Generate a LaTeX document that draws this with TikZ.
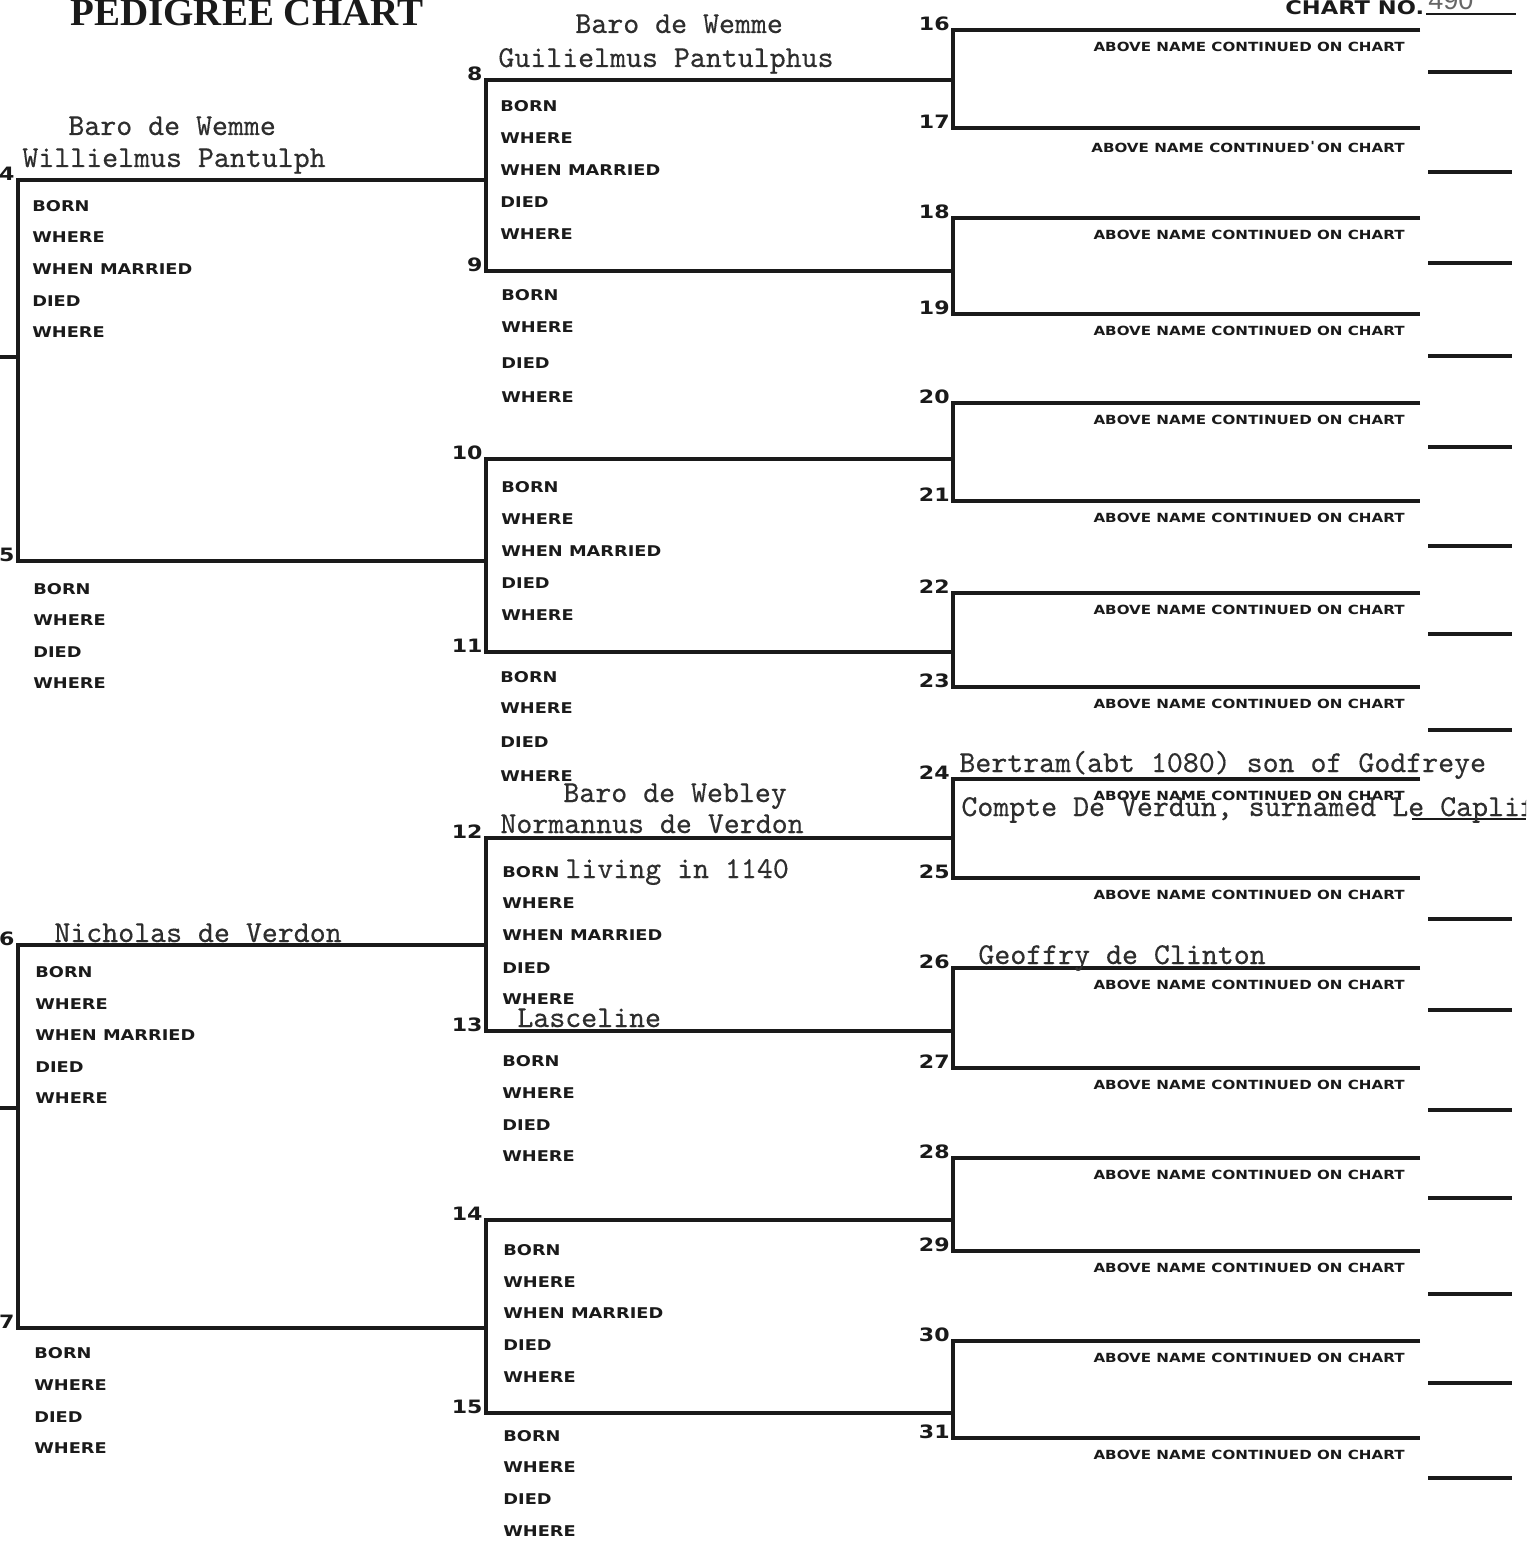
\documentclass[tikz,border=0pt]{standalone}
\usepackage{fontspec}
\newfontfamily\lblfont[FakeStretch=1.2]{DejaVu Sans Bold}
\newfontfamily\titlefont{Liberation Serif}
\newfontfamily\handfont{Liberation Sans}
\newfontfamily\twfont[FakeBold=0.35]{lmmono10-regular.otf}
\definecolor{ink}{HTML}{1A1A1A}
\definecolor{typ}{HTML}{2E2E2E}
\definecolor{pencil}{HTML}{666666}
\tikzset{
  ln/.style={line width=1.7pt, draw=ink, line join=miter},
  lbl/.style={font=\lblfont\fontsize{7.4}{8}\selectfont, anchor=west, inner sep=0pt, text=ink},
  cont/.style={font=\lblfont\fontsize{6.3}{7}\selectfont, anchor=east, inner sep=0pt, text=ink},
  num/.style={font=\lblfont\fontsize{9.2}{10}\selectfont, anchor=south east, inner sep=0pt, text=ink},
  tw/.style={font=\twfont\fontsize{15.2}{16}\selectfont, anchor=base west, inner sep=0pt, text=typ},
}
\begin{document}
\begin{tikzpicture}[x=0.5pt,y=-0.5pt]
\useasboundingbox (0,0) rectangle (1526,1546);
\clip (0,0) rectangle (1526,1546);
\fill[white] (0,0) rectangle (1526,1546);

% ---------- heading ----------
\node[anchor=base west, inner sep=0pt, font=\titlefont\bfseries\fontsize{19.5}{20}\selectfont, text=ink] (title) at (70,26) {PEDIGREE CHART};
\node[anchor=base west, inner sep=0pt, font=\lblfont\fontsize{9.4}{10}\selectfont, text=ink] (chartno) at (1285,15) {CHART NO.};
\node[anchor=base west, inner sep=0pt, font=\handfont\fontsize{13.5}{14}\selectfont, text=pencil] (chartnum) at (1428,10) {490};
\coordinate (cnA) at (1426,14);
\coordinate (cnB) at (1516,14);
\draw[line width=1pt, draw=ink] (cnA) -- (cnB);

% ---------- line coordinates ----------
\foreach \n/\y in {4/180,5/561,6/945,7/1328}{
  \coordinate (L\n) at (18,\y); \coordinate (R\n) at (486,\y);}
\foreach \n/\y in {8/80,9/271,10/459,11/652,12/838,13/1031,14/1220,15/1413}{
  \coordinate (L\n) at (486,\y); \coordinate (R\n) at (953,\y);}
\foreach \n/\y in {16/30,17/128,18/218,19/314,20/403,21/501,22/593,23/687,24/779,25/878,26/968,27/1068,28/1158,29/1251,30/1341,31/1438}{
  \coordinate (L\n) at (953,\y); \coordinate (R\n) at (1420,\y);}

% brackets with their lines
\foreach \a/\b in {4/5,6/7,8/9,10/11,12/13,14/15,16/17,18/19,20/21,22/23,24/25,26/27,28/29,30/31}{
  \draw[ln] (R\a) -- (L\a) -- (L\b) -- (R\b);}

% left stubs (from persons 2 and 3)
\coordinate (S2) at (0,357);
\coordinate (S3) at (0,1108);
\draw[ln] (S2) -- (S2 -| L4);
\draw[ln] (S3) -- (S3 -| L6);

% short continuation lines at right
\foreach \n/\s in {16/72,17/172,18/263,19/356,20/447,21/546,22/634,23/730,25/919,26/1010,27/1110,28/1198,29/1294,30/1383,31/1478}{
  \coordinate (T\n) at (1428,\s); \coordinate (U\n) at (1512,\s);
  \draw[ln] (T\n) -- (U\n);}
\coordinate (T24) at (1412,819); \coordinate (U24) at (1526,819);
\draw[line width=1.2pt, draw=ink] (T24) -- (U24);

% ---------- numbers ----------
\foreach \n in {4,...,31}{
  \node[num] (num\n) at ([xshift=-1.5pt,yshift=-0.5pt]L\n) {\n};}

% ---------- ABOVE NAME CONTINUED ON CHART ----------
\foreach \n in {16,18,19,20,21,22,23,24,25,26,27,28,29,30,31}{
  \node[cont] (cont\n) at ([xshift=-7.5pt,yshift=-8.5pt]R\n) {ABOVE NAME CONTINUED ON CHART};}
\node[cont] (cont17) at ([xshift=-7.5pt,yshift=-9.5pt]R17) {ABOVE NAME CONTINUED\kern0.4pt\raisebox{1pt}{'}\kern-1.6pt\ ON CHART};

% ---------- field labels: persons with marriage ----------
\foreach \id/\x/\a/\b/\c/\d/\e in {4/32/206/237/269/301/332, 6/35/972/1004/1035/1067/1098,
    8/500/106/138/170/202/234, 10/501/487/519/551/583/615, 12/502/872/903/935/968/999, 14/503/1250/1282/1313/1345/1377}{
  \node[lbl] (born\id) at (\x,\a) {BORN};
  \node[lbl] (where\id) at (\x,\b) {WHERE};
  \node[lbl] (married\id) at (\x,\c) {WHEN MARRIED};
  \node[lbl] (died\id) at (\x,\d) {DIED};
  \node[lbl] (dwhere\id) at (\x,\e) {WHERE};}
% ---------- field labels: persons without marriage ----------
\foreach \id/\x/\a/\b/\d/\e in {5/33/589/620/652/683, 7/34/1353/1385/1417/1448,
    9/501/295/327/363/397, 11/500/677/708/742/776, 13/502/1061/1093/1125/1156, 15/503/1436/1467/1499/1531}{
  \node[lbl] (born\id) at (\x,\a) {BORN};
  \node[lbl] (where\id) at (\x,\b) {WHERE};
  \node[lbl] (died\id) at (\x,\d) {DIED};
  \node[lbl] (dwhere\id) at (\x,\e) {WHERE};}

% ---------- typewritten entries ----------
\node[tw] (t4a) at (68,135) {Baro de Wemme};
\node[tw] (t4b) at (22,167) {Willielmus Pantulph};
\node[tw] (t8a) at (575,33) {Baro de Wemme};
\node[tw] (t8b) at (498,67) {Guilielmus Pantulphus};
\node[tw] (t12a) at (563,802) {Baro de Webley};
\node[tw] (t12b) at (500,833) {Normannus de Verdon};
\node[tw] (t12c) at (565,878) {living in 1140};
\node[tw] (t13) at (517,1027) {Lasceline};
\node[tw] (t6) at (54,942) {Nicholas de Verdon};
\node[tw] (t24a) at (959,772) {Bertram(abt 1080) son of Godfreye};
\node[tw] (t24b) at (961,816) {Compte De Verdun, surnamed Le Caplif};
\node[tw] (t26) at (978,964) {Geoffry de Clinton};
\end{tikzpicture}
\end{document}
